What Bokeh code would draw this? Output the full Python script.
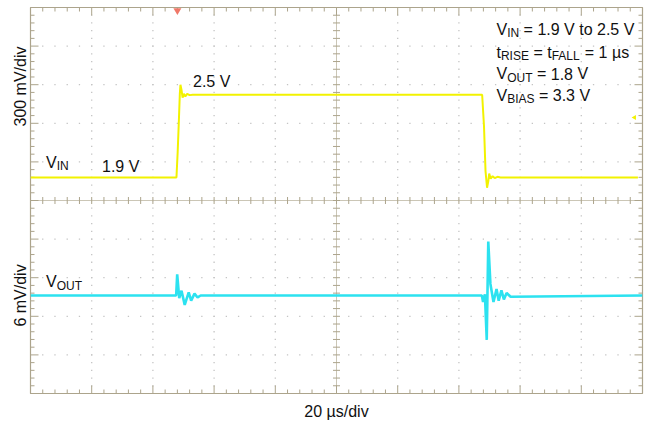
import numpy as np
from bokeh.plotting import figure
from bokeh.models import Range1d, Label, LinearAxis, FixedTicker
from bokeh.embed import file_html
from bokeh.resources import INLINE

# ---------------- data ----------------
# time in microseconds (20 us/div, 10 divisions)
vin_t = [0, 47.7, 48.1, 48.5, 48.8, 49.0, 49.35, 49.7, 50.1, 50.6, 51.2, 52.0, 53.0,
         147.6, 148.2, 148.7, 149.2, 149.6, 149.9, 150.4, 151.0, 151.7, 152.6, 153.6, 198.5]
vin_v = [1.90, 1.90, 2.10, 2.35, 2.55, 2.62, 2.58, 2.52, 2.55, 2.53, 2.55, 2.54, 2.543,
         2.543, 2.30, 1.95, 1.82, 1.87, 1.93, 1.89, 1.91, 1.895, 1.905, 1.90, 1.90]
# VOUT deviation from 1.8 V, in mV (6 mV/div)
vout_t = [0, 47.6, 47.94, 48.6, 49.35, 50.4, 51.7, 52.5, 53.6, 54.6, 55.6,
          147.5, 147.9, 148.5, 149.1, 149.6, 150.3, 151.3, 152.3, 153.0, 153.9,
          154.7, 155.6, 156.9, 200]
vout_mv = [0, 0, 3.3, -0.4, 0.75, -1.45, 0.5, -0.8, 0.3, -0.3, 0,
           0, -1.0, 0.2, -6.9, 8.4, 1.8, -1.0, 1.0, -0.8, 0.8,
           -0.6, 0.4, -0.2, 0]
trigger_time = [48.0]

x_label = "20 µs/div"
vin_scale_label = "300 mV/div"
vout_scale_label = "6 mV/div"

# ---------------- styling ----------------
W, H = 645, 424
L, R, T, B = 30, 3, 7, 31
FW, FH = W - L - R, H - T - B
FONT = "Liberation Sans"
YELLOW = "#f2f200"
CYAN = "#2ce2f0"
FRAME = "#aca48c"
DOT = "#c4c4c4"
TXT = "#111111"

p = figure(width=W, height=H, x_range=Range1d(0, 200), y_range=Range1d(0, 10),
           output_backend="svg", toolbar_location=None,
           x_axis_location=None, y_axis_location=None,
           min_border_left=L, min_border_right=R, min_border_top=T, min_border_bottom=B)
p.extra_y_ranges = {"vin": Range1d(0.221, 3.221), "vout": Range1d(-15.23, 44.77)}
for g in p.grid:
    g.visible = False
p.outline_line_color = FRAME
p.outline_line_width = 1.2
p.background_fill_color = "white"
p.border_fill_color = "white"


def px2x(px):
    return (px - L) * 200.0 / FW


def px2y(py):
    return (T + FH - py) * 10.0 / FH


# scale captions carried by axes (tick labels at chosen spots)
left_ax = LinearAxis(ticker=FixedTicker(ticks=[px2y(86), px2y(295)]),
                     major_label_overrides={px2y(86): vin_scale_label, px2y(295): vout_scale_label},
                     major_label_orientation="vertical", major_label_standoff=2,
                     major_tick_in=0, major_tick_out=0, minor_tick_in=0, minor_tick_out=0,
                     axis_line_color=None, major_label_text_font=FONT,
                     major_label_text_font_size="16px", major_label_text_color=TXT)
bottom_ax = LinearAxis(ticker=FixedTicker(ticks=[100]),
                       major_label_overrides={100: x_label}, major_label_standoff=9,
                       major_tick_in=0, major_tick_out=0, minor_tick_in=0, minor_tick_out=0,
                       axis_line_color=None, major_label_text_font=FONT,
                       major_label_text_font_size="16px", major_label_text_color=TXT)
p.add_layout(left_ax, "left")
p.add_layout(bottom_ax, "below")

# graticule: dotted lines made of dots
xm = np.arange(0, 200.001, 4.0)       # minor x positions (0.2 div)
ym = np.arange(0, 10.001, 0.2)        # minor y positions
dx, dy = [], []
for xd in range(1, 10):
    if xd == 5:
        continue
    for yv in ym[1:-1]:
        dx.append(xd * 20.0)
        dy.append(yv)
for yd in range(1, 10):
    if yd == 5:
        continue
    for xv in xm[1:-1]:
        dx.append(xv)
        dy.append(float(yd))
p.scatter(dx, dy, marker="square", size=1.3, fill_color=DOT, line_color=None)

# center cross
p.segment(x0=[100, 0], y0=[0, 5], x1=[100, 200], y1=[10, 5], line_color="#cbc6b6", line_width=1)

# ticks
is_major_x = np.isclose(np.mod(xm, 20), 0) | np.isclose(np.mod(xm, 20), 20)
is_major_y = np.isclose(np.mod(ym, 1), 0) | np.isclose(np.mod(ym, 1), 1)
sx = np.where(is_major_x, 16, 8)
sy = np.where(is_major_y, 16, 8)
for yy in (0, 10):
    p.scatter(xm, [yy] * len(xm), marker="dash", size=sx, angle=np.pi / 2, line_color=FRAME, line_width=1)
for xx in (0, 200):
    p.scatter([xx] * len(ym), ym, marker="dash", size=sy, angle=0, line_color=FRAME, line_width=1)
p.scatter(xm, [5] * len(xm), marker="dash", size=7, angle=np.pi / 2, line_color=FRAME, line_width=1)
p.scatter([100] * len(ym), ym, marker="dash", size=7, angle=0, line_color=FRAME, line_width=1)

# traces
p.line(vin_t, vin_v, y_range_name="vin", line_color=YELLOW, line_width=2)
p.line(vout_t, vout_mv, y_range_name="vout", line_color=CYAN, line_width=2.6)

# trigger marker and channel marker
p.scatter(trigger_time, [px2y(10)], marker="inverted_triangle", size=8,
          fill_color="#f07868", line_color=None)
p.scatter([px2x(634)], [px2y(117)], marker="triangle", angle=np.pi / 2, size=5,
          fill_color=YELLOW, line_color=None)

# ---------------- text ----------------
AW = {'V': 667, 'I': 278, 'N': 722, ' ': 278, '=': 584, '.': 278, 't': 278, 'o': 556,
      'R': 722, 'S': 667, 'E': 667, 'F': 611, 'A': 667, 'L': 556, 'O': 778, 'U': 722,
      'T': 611, 'B': 667, 'µ': 576, 's': 500}
for d in "0123456789":
    AW[d] = 556


def twidth(s, fs):
    return sum(AW.get(c, 556) for c in s) * fs / 1000.0


def rich(x0, yb, pieces, size=16, sub=12, shift=4):
    """Place text pieces (normal / subscript) word by word, in pixel layout."""
    x = x0
    for txt, is_sub in pieces:
        fs = sub if is_sub else size
        y = px2y(yb + (shift if is_sub else 0))
        word = ""
        for ch in txt + "\0":
            if ch in (" ", "\0"):
                if word:
                    p.add_layout(Label(x=px2x(x), y=y, text=word,
                                       text_font=FONT, text_font_size=f"{fs}px",
                                       text_color=TXT, text_baseline="alphabetic",
                                       text_align="left"))
                    x += twidth(word, fs)
                    word = ""
                if ch == " ":
                    x += twidth(" ", fs)
            else:
                word += ch


rich(496, 28.5, [("V", 0), ("IN", 1), (" = 1.9 V to 2.5 V", 0)])
rich(496, 51.5, [("t", 0), ("RISE", 1), (" = t", 0), ("FALL", 1), (" = 1 µs", 0)])
rich(496, 73, [("V", 0), ("OUT", 1), (" = 1.8 V", 0)])
rich(496, 94.5, [("V", 0), ("BIAS", 1), (" = 3.3 V", 0)])
rich(45.5, 161.5, [("V", 0), ("IN", 1)])
rich(101.5, 165.5, [("1.9 V", 0)])
rich(192.5, 80.5, [("2.5 V", 0)])
rich(45.5, 281, [("V", 0), ("OUT", 1)])

open("out.html", "w").write(file_html(p, INLINE))
